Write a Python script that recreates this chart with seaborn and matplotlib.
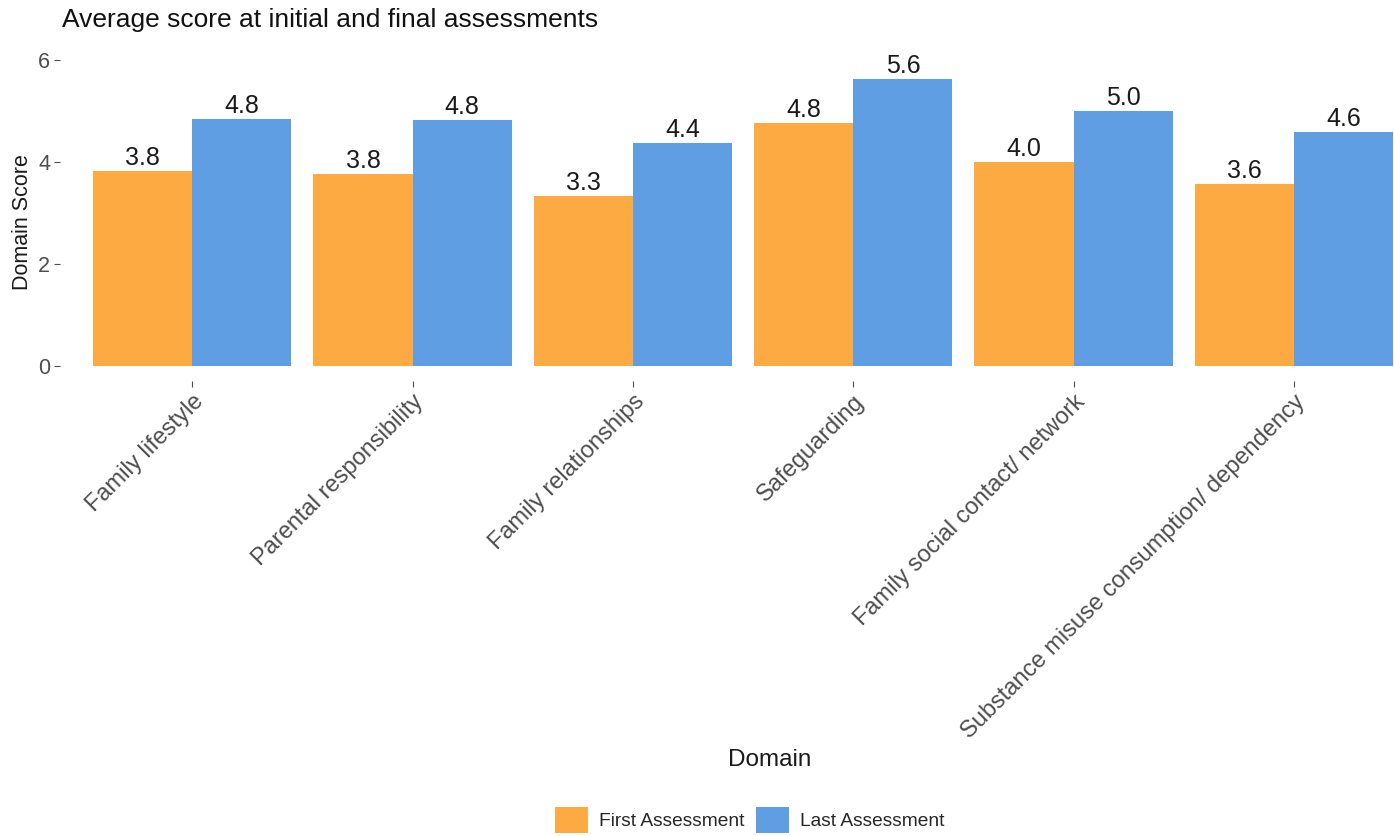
import matplotlib
matplotlib.use("Agg")
import matplotlib.pyplot as plt
import seaborn as sns
import pandas as pd

domains = ["Family lifestyle", "Parental responsibility", "Family relationships",
           "Safeguarding", "Family social contact/ network",
           "Substance misuse consumption/ dependency"]
first_scores = [3.82, 3.77, 3.34, 4.77, 4.01, 3.57]
last_scores = [4.84, 4.82, 4.38, 5.63, 5.01, 4.59]
series = ["First Assessment", "Last Assessment"]
yticks = [0, 2, 4, 6]

df = pd.DataFrame({
    "Domain": domains * 2,
    "Score": first_scores + last_scores,
    "Assessment": [series[0]] * len(domains) + [series[1]] * len(domains),
})

sns.set_theme(style="white")
plt.rcParams["font.family"] = ["Liberation Sans", "DejaVu Sans"]

W, H = 1394, 836
fig = plt.figure(figsize=(W / 100, H / 100), dpi=100)
left_px, right_px, top_px, bot_px = 60, 1394, 45, 381
ax = fig.add_axes([left_px / W, 1 - bot_px / H, (right_px - left_px) / W, (bot_px - top_px) / H])

palette = {"First Assessment": "#FDAA43", "Last Assessment": "#5F9EE2"}
sns.barplot(data=df, x="Domain", y="Score", hue="Assessment", order=domains,
            hue_order=series, palette=palette, width=0.9, gap=0, saturation=1,
            edgecolor="none", linewidth=0, ax=ax, legend=True)

for cont in ax.containers:
    for bar in cont:
        h = bar.get_height()
        ax.text(bar.get_x() + bar.get_width() / 2, h + 0.02, f"{h:.1f}",
                ha="center", va="bottom", fontsize=18, color="#1a1a1a")

ax.set_xlim(-0.6, 5 + (1394 - 1294) / 220.4)
ax.set_ylim(-0.3, 6.3)
ax.set_yticks(yticks)
ax.set_yticklabels([str(t) for t in yticks], fontsize=15.5, color="#4D4D4D")
ax.set_xticks(range(len(domains)))
ax.set_xticklabels(domains, rotation=45, ha="right", va="top",
                   rotation_mode="anchor", fontsize=17, color="#4D4D4D")
ax.tick_params(axis="both", length=4, width=0.8, color="#4D4D4D", pad=3, bottom=True, left=True)
for s in ax.spines.values():
    s.set_visible(False)
ax.grid(False)

ax.set_ylabel("Domain Score", fontsize=15.5, color="#1a1a1a")
ax.yaxis.set_label_coords((22 - left_px) / (right_px - left_px), (bot_px - 222) / (bot_px - top_px))
ax.yaxis.label.set_va("center")
ax.set_xlabel("Domain", fontsize=17.5, color="#1a1a1a")
ax.xaxis.set_label_coords((770 - left_px) / (right_px - left_px), (bot_px - 760) / (bot_px - top_px))
ax.xaxis.label.set_va("center")

fig.text(62 / W, 1 - 20 / H, "Average score at initial and final assessments",
         fontsize=19, color="#111111", ha="left", va="center")

handles, labels = ax.get_legend_handles_labels()
ax.get_legend().remove()
fig.legend(handles, labels, loc="center", bbox_to_anchor=(750 / W, 1 - 820 / H), ncol=2,
           frameon=False, fontsize=13.8, handlelength=1.7, handleheight=1.7,
           columnspacing=0.6, handletextpad=0.6)

fig.savefig("out.png", dpi=100)
